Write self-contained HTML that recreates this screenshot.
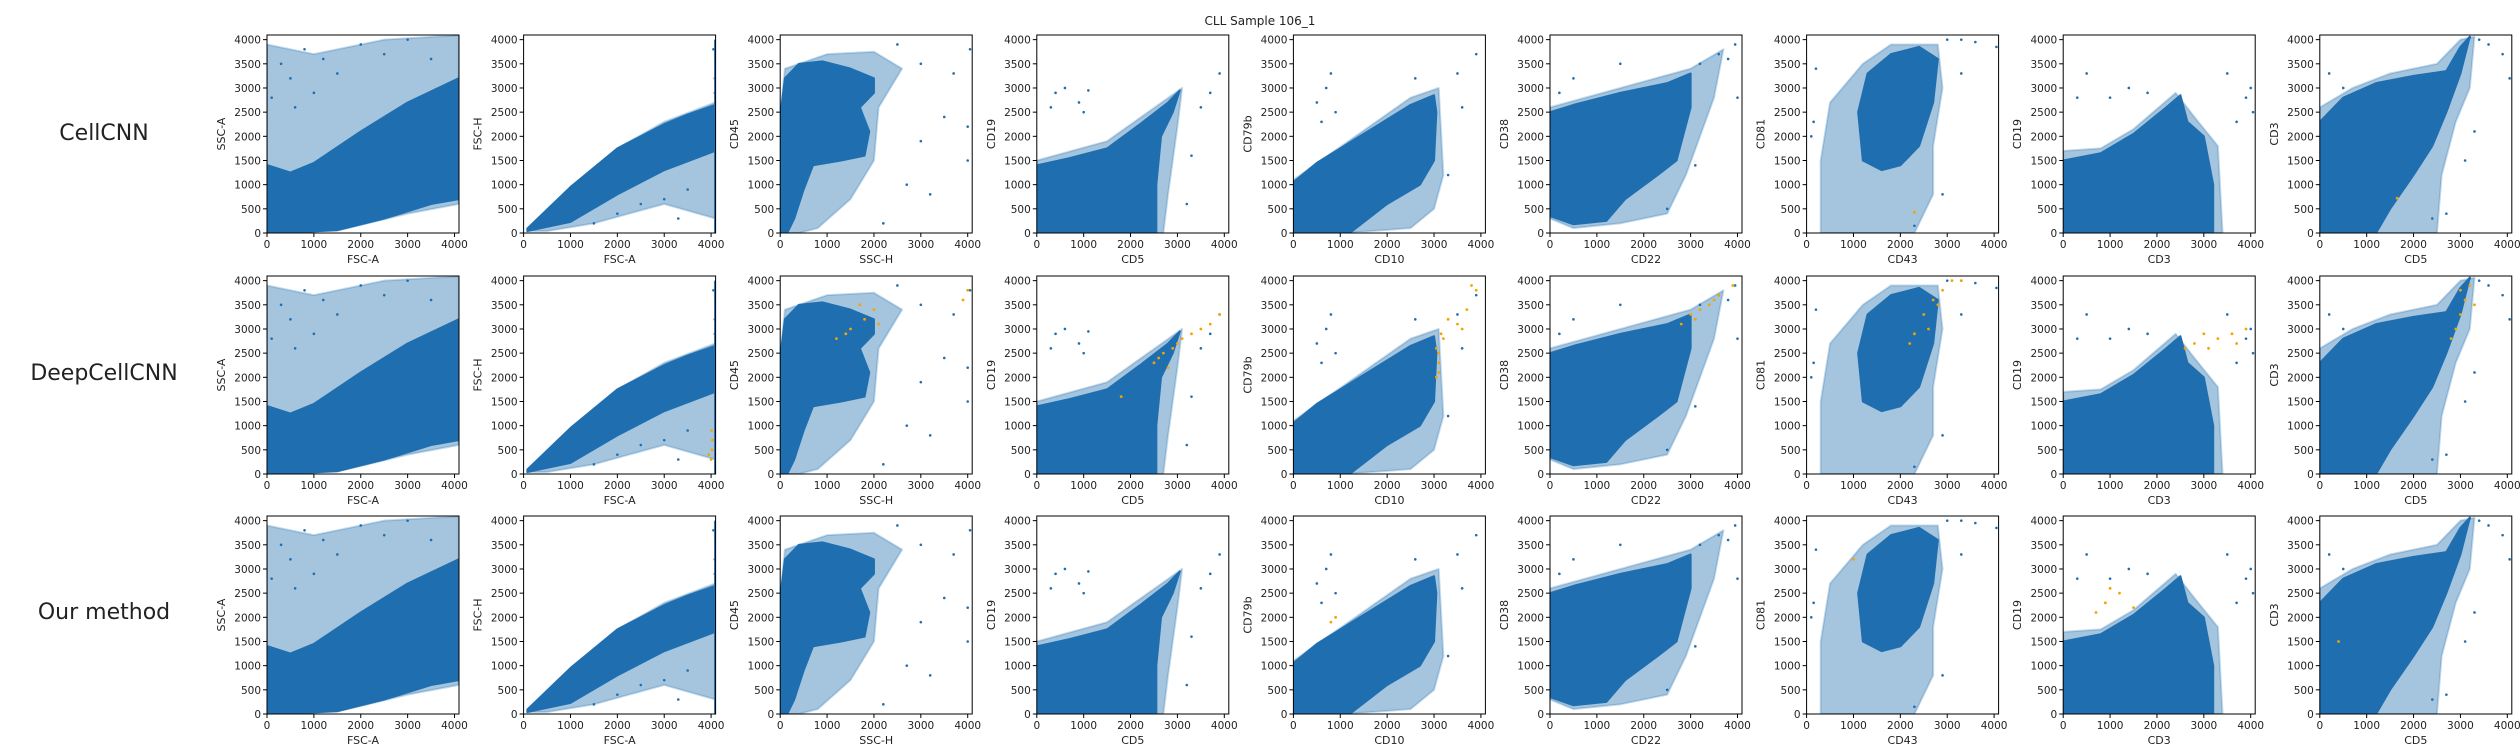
<!DOCTYPE html>
<html><head><meta charset="utf-8"><style>
html,body{margin:0;padding:0;background:#fff;width:2520px;height:756px;overflow:hidden}
svg{display:block}
text{font-family:"DejaVu Sans","Liberation Sans",sans-serif;fill:#222}
</style></head><body>
<svg id="chart" width="2520" height="756" viewBox="0 0 2520 756" xmlns="http://www.w3.org/2000/svg">
<text x="1260" y="25" text-anchor="middle" font-size="12">CLL Sample 106_1</text>
</svg>
<script>
const methods=["CellCNN","DeepCellCNN","Our method"];
const xLabels=["FSC-A","FSC-A","SSC-H","CD5","CD10","CD22","CD43","CD3","CD5"];
const yLabels=["SSC-A","FSC-H","CD45","CD19","CD79b","CD38","CD81","CD19","CD3"];
const xTicks=[0,1000,2000,3000,4000];
const yTicks=[0,500,1000,1500,2000,2500,3000,3500,4000];
// dense cloud outlines per column (data coords)
const denseClouds=[
 [[20,0],[20,1400],[500,1250],[1000,1450],[2000,2100],[3000,2700],[4090,3200],[4090,700],[3500,600],[2500,300],[1500,60],[300,0]],
 [[80,40],[1000,230],[2000,800],[3000,1300],[4090,1700],[4090,2650],[3500,2450],[3000,2250],[2000,1750],[1000,950],[80,90]],
 [[0,0],[0,2400],[100,3200],[400,3500],[900,3550],[1500,3400],[2000,3200],[2000,2900],[1700,2600],[1900,2100],[1800,1600],[1300,1500],[700,1400],[500,900],[300,300],[150,0]],
 [[0,0],[0,1400],[700,1550],[1500,1750],[2200,2250],[2800,2700],[3050,2950],[2900,2500],[2650,2000],[2550,1000],[2550,0]],
 [[0,0],[0,1050],[500,1450],[1500,2050],[2500,2650],[3000,2850],[3050,2500],[3000,1500],[2700,1000],[2000,600],[1200,0]],
 [[0,350],[0,2500],[500,2650],[1500,2900],[2500,3100],[3000,3300],[3000,2600],[2700,1500],[2300,1200],[1600,700],[1200,250],[500,180]],
 [[1200,1500],[1100,2500],[1300,3300],[1800,3700],[2400,3850],[2800,3600],[2700,2700],[2400,1800],[2000,1400],[1600,1300]],
 [[0,0],[0,1500],[800,1650],[1500,2050],[2200,2600],[2500,2850],[2650,2300],[3000,2000],[3200,1000],[3200,0]],
 [[0,0],[0,2300],[500,2800],[1200,3100],[2000,3250],[2700,3350],[3000,3850],[3200,4060],[3000,3300],[2700,2500],[2400,1800],[2000,1200],[1500,500],[1200,0]]
];
// sparser cloud hulls per column (drawn beneath the dense cloud)
const sparseClouds=[
 [[0,0],[0,3900],[1000,3700],[2500,4000],[4090,4090],[4090,600],[3000,400],[1500,50]],
 [[80,40],[80,100],[1000,950],[2000,1750],[3000,2300],[4090,2700],[4090,300],[3000,600],[1500,200],[500,40]],
 [[0,0],[0,2400],[100,3400],[1000,3700],[2000,3750],[2600,3400],[2100,2600],[2000,1500],[1500,700],[800,100],[400,0]],
 [[0,0],[0,1500],[1500,1900],[3100,3000],[3000,2200],[2800,800],[2700,0]],
 [[0,0],[0,1100],[2500,2800],[3100,3000],[3200,1200],[3000,500],[2500,100],[1100,0]],
 [[0,300],[0,2600],[1500,3000],[3000,3400],[3700,3800],[3500,2800],[2900,1200],[2500,400],[1500,200],[500,100]],
 [[300,0],[300,1500],[500,2700],[1200,3500],[1800,3900],[2800,3900],[2900,3000],[2700,1800],[2700,800],[2300,0]],
 [[0,0],[0,1700],[800,1750],[1500,2150],[2400,2900],[2800,2400],[3300,1800],[3400,0]],
 [[0,0],[0,2600],[700,3000],[1500,3300],[2500,3500],[3000,4000],[3300,4060],[3200,3000],[2900,2300],[2600,1200],[2500,0]]
];
// isolated outlier points per column [x,y]
const outliers=[
 [[300,3500],[500,3200],[800,3800],[1200,3600],[1500,3300],[2000,3900],[2500,3700],[3000,4000],[600,2600],[100,2800],[1000,2900],[3500,3600]],
 [[1500,200],[2000,400],[2500,600],[3000,700],[3300,300],[3500,900],[1200,500],[4050,3800],[4080,3200],[4080,2900]],
 [[2500,3900],[3000,3500],[3500,2400],[3700,3300],[4000,2200],[4000,1500],[2700,1000],[3200,800],[2200,200],[4050,3800],[3000,1900]],
 [[400,2900],[600,3000],[900,2700],[1100,2950],[300,2600],[1000,2500],[3300,1600],[3200,600],[3900,3300],[3500,2600],[3700,2900]],
 [[700,3000],[800,3300],[500,2700],[600,2300],[900,2500],[3900,3700],[3500,3300],[3300,1200],[3600,2600],[2600,3200]],
 [[3200,3500],[3600,3700],[3800,3600],[3950,3900],[3100,1400],[500,3200],[200,2900],[1500,3500],[2500,500],[4000,2800]],
 [[3000,4000],[3300,4000],[3600,3950],[4050,3850],[3300,3300],[2900,800],[2300,150],[150,2300],[200,3400],[100,2000]],
 [[500,3300],[1400,3000],[1800,2900],[3500,3300],[3900,2800],[4050,2500],[3700,2300],[4000,3000],[300,2800],[1000,2800]],
 [[3200,4050],[3400,4000],[3600,3900],[3900,3700],[4050,3200],[3300,2100],[3100,1500],[200,3300],[500,3000],[2400,300],[2700,400]]
];
// highlighted (orange) cells per row per column
const highlightsRow2=[
 [],
 [[4000,300],[4020,500],[4030,700],[4010,900],[3950,400]],
 [[1200,2800],[1500,3000],[1800,3200],[2000,3400],[1700,3500],[1400,2900],[2100,3100],[4000,3800],[3900,3600]],
 [[2500,2300],[2700,2500],[2900,2600],[3100,2800],[3300,2900],[3500,3000],[3700,3100],[3900,3300],[2800,2200],[3000,2700],[2600,2400],[1800,1600]],
 [[3050,2000],[3100,2300],[3050,2600],[3150,2900],[3300,3200],[3500,3100],[3700,3400],[3900,3800],[3100,2100],[3200,2800],[3600,3000],[3800,3900],[3100,2500]],
 [[2800,3100],[3000,3300],[3200,3400],[3400,3500],[3600,3700],[3900,3900],[3100,3200],[3500,3600]],
 [[2300,2900],[2500,3300],[2700,3600],[2900,3800],[3100,4000],[2600,3000],[3300,4000],[2200,2700],[2800,3500]],
 [[2600,2600],[2800,2700],[3000,2900],[3300,2800],[3600,2900],[3900,3000],[3100,2600],[3700,2700]],
 [[2900,3000],[3000,3300],[3100,3600],[3200,3900],[3000,3800],[3300,3500],[2800,2800]]
];
const highlightsRow1=[[],[],[],[],[],[],[[2300,430]],[],[[1650,720]]];
const highlightsRow3=[[],[],[],[],[[800,1900],[900,2000]],[],[[1000,3200]],[[700,2100],[900,2300],[1200,2500],[1500,2200],[1000,2600]],[[400,1500]]];
const highlights=[highlightsRow1,highlightsRow2,highlightsRow3];

const svg=document.getElementById('chart');
const NS='http://www.w3.org/2000/svg';
const LEFT0=267,PITCH=256.6,PW=192,PH=198,TOPS=[35,276,516],MAXV=4096;
const BLUE='#1f6fb0',ORANGE='#f5a300';
function mk(tag,attrs,parent){const e=document.createElementNS(NS,tag);for(const k in attrs)e.setAttribute(k,attrs[k]);parent.appendChild(e);return e;}
const rowLabelY=[133,373,612];
methods.forEach((m,r)=>{
 const t=mk('text',{x:104,y:rowLabelY[r]+7,'text-anchor':'middle','font-size':22},svg);
 t.textContent=m;
 
 
 for(let c=0;c<9;c++){
  const x0=LEFT0+c*PITCH,y0=TOPS[r];
  const sx=v=>x0+v/MAXV*PW, sy=v=>y0+PH-v/MAXV*PH;
  const g=mk('g',{},svg);
  
  
  const cp='cp'+r+'_'+c;
  const cl=mk('clipPath',{id:cp},g);mk('rect',{x:x0,y:y0,width:PW,height:PH},cl);
  const pg=mk('g',{'clip-path':'url(#'+cp+')'},g);
  const sp=mk('polygon',{points:sparseClouds[c].map(p=>sx(p[0])+','+sy(p[1])).join(' '),fill:BLUE,'fill-opacity':0.4,stroke:BLUE,'stroke-opacity':0.25,'stroke-width':2,'stroke-linejoin':'round'},pg);
  
  
  const dp=mk('polygon',{points:denseClouds[c].map(p=>sx(p[0])+','+sy(p[1])).join(' '),fill:BLUE,stroke:BLUE,'stroke-width':2,'stroke-linejoin':'round'},pg);
  
  
  if(c===1){const ln=mk('line',{x1:sx(4085),x2:sx(4085),y1:sy(0),y2:sy(4000),stroke:BLUE,'stroke-width':2},pg);
   
   }
  outliers[c].forEach(p=>{const d=mk('circle',{cx:sx(p[0]),cy:sy(p[1]),r:1.3,fill:BLUE},pg);
   
   });
  highlights[r][c].forEach(p=>{const d=mk('circle',{cx:sx(p[0]),cy:sy(p[1]),r:1.4,fill:ORANGE},pg);
   
   });
  const fr=mk('rect',{x:x0,y:y0,width:PW,height:PH,fill:'none',stroke:'#000','stroke-width':1},g);
  
  
  xTicks.forEach(v=>{const X=sx(v);mk('line',{x1:X,x2:X,y1:y0+PH,y2:y0+PH+4,stroke:'#000'},g);
   const tt=mk('text',{x:X,y:y0+PH+15,'text-anchor':'middle','font-size':10.5},g);tt.textContent=v;
   
   });
  yTicks.forEach(v=>{const Y=sy(v);mk('line',{x1:x0-4,x2:x0,y1:Y,y2:Y,stroke:'#000'},g);
   const tt=mk('text',{x:x0-6,y:Y+4,'text-anchor':'end','font-size':10.5},g);tt.textContent=v;
   
   });
  const xl=mk('text',{x:x0+PW/2,y:y0+PH+30,'text-anchor':'middle','font-size':11},g);xl.textContent=xLabels[c];
  
  
  const yx=x0-42,yy=y0+PH/2;
  const yl=mk('text',{x:yx,y:yy,'text-anchor':'middle','font-size':11,transform:'rotate(-90 '+yx+' '+yy+')'},g);yl.textContent=yLabels[c];
  
  
 }
});
</script>
</body></html>
